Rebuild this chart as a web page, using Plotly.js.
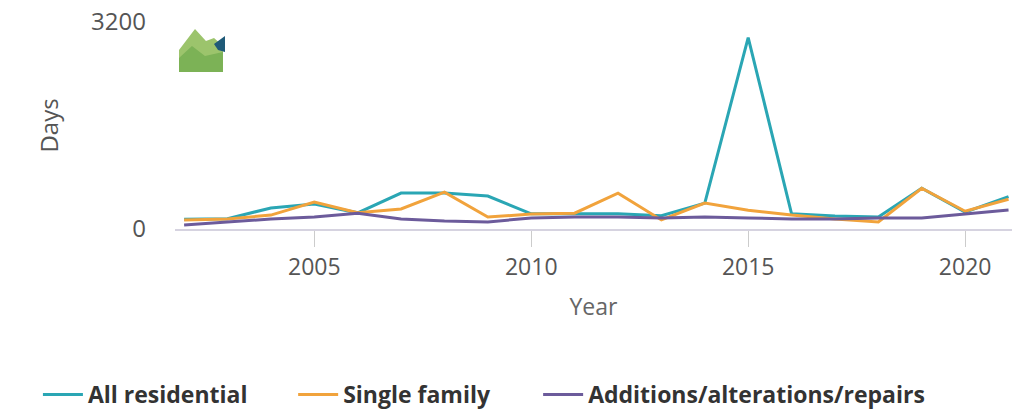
<!DOCTYPE html>
<html>
<head>
<meta charset="utf-8">
<script src="https://cdn.plot.ly/plotly-3.0.1.min.js"></script>
<style>
  html, body { margin: 0; padding: 0; background: #ffffff; }
  #chart { width: 1025px; height: 411px; }
</style>
</head>
<body>
<div id="chart"></div>
<script>
// ---- data ----
const years = [2002, 2003, 2004, 2005, 2006, 2007, 2008, 2009, 2010, 2011,
               2012, 2013, 2014, 2015, 2016, 2017, 2018, 2019, 2020, 2021];
const allResidential = [150, 160, 325, 385, 250, 555, 555, 510, 235, 235,
                        235, 205, 400, 2960, 235, 200, 185, 630, 260, 500];
const singleFamily   = [140, 155, 215, 415, 250, 310, 570, 185, 230, 245,
                        555, 140, 400, 290, 215, 155, 110, 630, 275, 460];
const additions      = [60, 105, 155, 185, 245, 155, 125, 110, 170, 185,
                        185, 170, 185, 170, 155, 155, 170, 170, 230, 295];
const seriesNames = ['All residential', 'Single family', 'Additions/alterations/repairs'];
const xTicks = [2005, 2010, 2015, 2020];
const yTicks = [0, 3200];
const yTickLabels = ['0', '3200'];

const colors = ['#2aa6b4', '#f1a33c', '#6c5b9b'];
const seriesValues = [allResidential, singleFamily, additions];
const legendIds = ['legend', 'legend2', 'legend3'];
const legendX = [0.037, 0.286, 0.525];

const traces = seriesValues.map((vals, i) => ({
  type: 'scatter',
  mode: 'lines',
  x: years,
  y: vals,
  name: seriesNames[i],
  legend: legendIds[i],
  line: { color: colors[i], width: 3 },
  hoverinfo: 'x+y+name'
}));

const layout = {
  width: 1025,
  height: 411,
  paper_bgcolor: '#ffffff',
  plot_bgcolor: '#ffffff',
  margin: { l: 175, r: 13, t: 22, b: 182, pad: 0, autoexpand: false },
  font: { family: 'Open Sans, sans-serif', color: '#555555', size: 22 },
  showlegend: true,
  xaxis: {
    range: [2001.79, 2021.08],
    tickmode: 'array',
    tickvals: xTicks,
    ticktext: xTicks.map(String),
    ticks: 'outside',
    ticklen: 16,
    tickcolor: '#cccccc',
    tickwidth: 1,
    ticklabelstandoff: 0,
    showgrid: false,
    zeroline: false,
    showline: true,
    linecolor: '#d6d3e0',
    linewidth: 2,
    tickfont: { size: 23, color: '#555555' },
    title: { text: 'Year', font: { size: 23, color: '#666666' }, standoff: 18 },
    fixedrange: true
  },
  yaxis: {
    range: [0, 3200],
    tickmode: 'array',
    tickvals: yTicks,
    ticktext: yTickLabels,
    showgrid: true,
    gridcolor: '#dcdcdc',
    gridwidth: 1,
    zeroline: false,
    showline: false,
    ticks: '',
    ticklabelstandoff: 28,
    tickfont: { size: 24, color: '#555555' },
    title: { text: 'Days', font: { size: 24, color: '#555555' }, standoff: 25 },
    fixedrange: true
  }
};

legendIds.forEach((id, i) => {
  layout[id] = {
    orientation: 'h',
    xref: 'container', yref: 'container',
    x: legendX[i], xanchor: 'left',
    y: 0.04, yanchor: 'middle',
    font: { family: 'Open Sans, sans-serif', size: 23, color: '#333333', weight: 700 },
    itemwidth: 40,
    bgcolor: 'rgba(0,0,0,0)'
  };
});

// logo approximated with shapes (paper coordinates)
const px = v => (v - 175) / (1012 - 175);
const py = v => (229 - v) / 207;
function poly(pts) {
  return 'M ' + pts.map(p => px(p[0]).toFixed(4) + ' ' + py(p[1]).toFixed(4)).join(' L ') + ' Z';
}
layout.shapes = [
  { type: 'path', xref: 'paper', yref: 'paper', layer: 'above',
    path: poly([[179,72],[179,50],[195,29],[206,41],[214,38],[223,46],[223,72]]),
    fillcolor: '#9cc46c', line: { width: 0 } },
  { type: 'path', xref: 'paper', yref: 'paper', layer: 'above',
    path: poly([[179,72],[179,58],[192,46],[205,56],[223,52],[223,72]]),
    fillcolor: '#7cb256', line: { width: 0 } },
  { type: 'path', xref: 'paper', yref: 'paper', layer: 'above',
    path: poly([[214,44],[225,36],[225,52],[218,50]]),
    fillcolor: '#1f5a78', line: { width: 0 } }
];

Plotly.newPlot('chart', traces, layout, { displayModeBar: false, staticPlot: true });
</script>
</body>
</html>
